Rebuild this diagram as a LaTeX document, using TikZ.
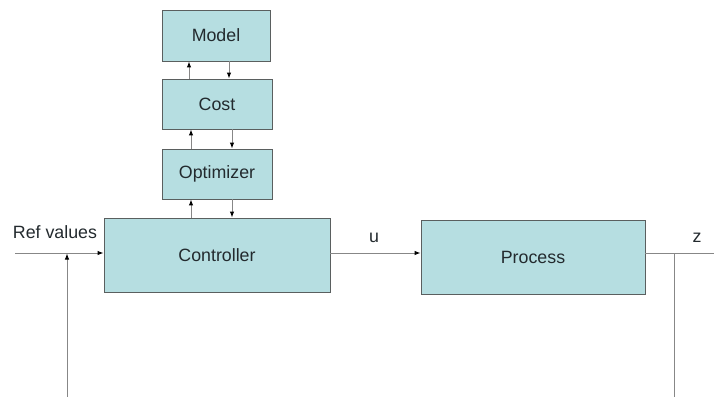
\documentclass[tikz,border=0pt]{standalone}
\usepackage{fontspec}
\setmainfont{Liberation Sans}
\usetikzlibrary{arrows.meta,calc}
\definecolor{boxfill}{RGB}{182,222,225}
\definecolor{boxedge}{RGB}{90,95,95}
\definecolor{wire}{RGB}{135,135,135}
\definecolor{ink}{RGB}{35,42,46}
\begin{document}
\begin{tikzpicture}[x=1pt,y=-1pt,
  blk/.style={draw=boxedge,fill=boxfill,line width=0.9pt,inner sep=0pt,
    text=ink,font=\fontsize{17.8}{20}\selectfont},
  arr/.style={draw=wire,line width=1pt,-{Latex[length=6pt,width=4.5pt,color=black]}},
  wireline/.style={draw=wire,line width=1pt},
  lbl/.style={text=ink,font=\fontsize{17.8}{20}\selectfont}]
\useasboundingbox (0,0) rectangle (714,396);
% blocks
\node[blk,minimum width=108pt,minimum height=51pt] (model) at (216,35.5) {Model};
\node[blk,minimum width=110pt,minimum height=50pt] (cost) at (217,104) {Cost};
\node[blk,minimum width=110pt,minimum height=50pt] (opt) at (217,174) {Optimizer};
\node[blk,minimum width=226pt,minimum height=74pt] (ctrl) at (217,255) {Controller};
\node[blk,minimum width=224pt,minimum height=74pt] (proc) at (533,257) {Process};
% free ends
\coordinate (refin) at (15,253);
\coordinate (zout) at (714,253);
\coordinate (fbR) at (674,404);
\coordinate (fbL) at (67,404);
% optimisation stack links
\draw[arr] (cost.north -| 189,0) -- (model.south -| 189,0);
\draw[arr] (model.south -| 229,0) -- (cost.north -| 229,0);
\draw[arr] (opt.north -| 191,0) -- (cost.south -| 191,0);
\draw[arr] (cost.south -| 232,0) -- (opt.north -| 232,0);
\draw[arr] (ctrl.north -| 191,0) -- (opt.south -| 191,0);
\draw[arr] (opt.south -| 232,0) -- (ctrl.north -| 232,0);
% main loop
\draw[arr] (refin) -- (ctrl.west |- refin);
\draw[arr] (ctrl.east |- refin) -- (proc.west |- refin);
\draw[wireline] (proc.east |- refin) -- (zout);
\draw[arr] (fbR |- refin) -- (fbR) -- (fbL) -- ($(fbL |- refin)+(0,0.5)$);
% labels
\node[lbl] (reflbl) at (55,232) {Ref values};
\node[lbl] (ulbl) at (374,238) {u};
\node[lbl] (zlbl) at (697,238) {z};
\end{tikzpicture}
\end{document}
